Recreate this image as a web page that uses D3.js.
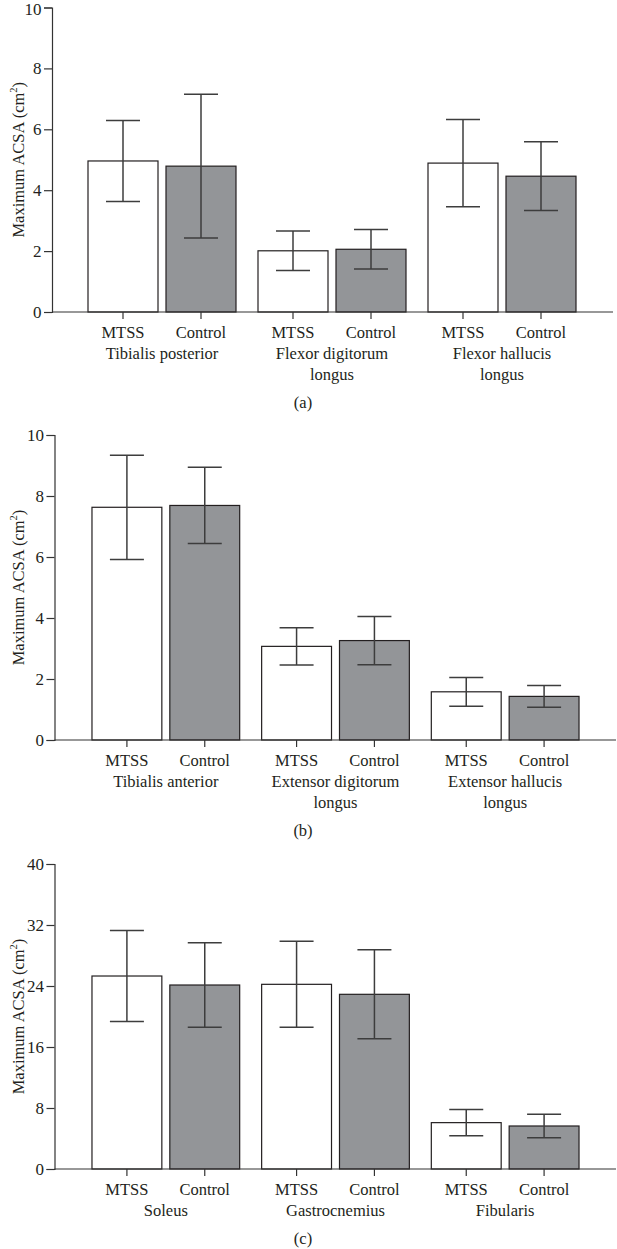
<!DOCTYPE html>
<html>
<head>
<meta charset="utf-8">
<script src="https://cdn.jsdelivr.net/npm/d3@7/dist/d3.min.js"></script>
<style>
  html, body { margin: 0; padding: 0; background: #fff; }
  svg { display: block; }
  text { font-family: "Liberation Serif", "Times New Roman", serif; fill: #231f20; }
</style>
</head>
<body>
<svg id="chart" width="617" height="1249"></svg>
<script>
// ---- Data ----
const groups = ["MTSS", "Control"];

const musclesA = [["Tibialis posterior"], ["Flexor digitorum", "longus"], ["Flexor hallucis", "longus"]];
const mtssMeanA = [4.96, 2.01, 4.89];
const mtssSdA = [1.33, 0.65, 1.43];
const controlMeanA = [4.79, 2.06, 4.46];
const controlSdA = [2.36, 0.65, 1.13];
const ticksA = [0, 2, 4, 6, 8, 10];

const musclesB = [["Tibialis anterior"], ["Extensor digitorum", "longus"], ["Extensor hallucis", "longus"]];
const mtssMeanB = [7.63, 3.07, 1.58];
const mtssSdB = [1.71, 0.61, 0.47];
const controlMeanB = [7.69, 3.26, 1.43];
const controlSdB = [1.25, 0.79, 0.36];
const ticksB = [0, 2, 4, 6, 8, 10];

const musclesC = [["Soleus"], ["Gastrocnemius"], ["Fibularis"]];
const mtssMeanC = [25.31, 24.22, 6.08];
const mtssSdC = [5.96, 5.64, 1.71];
const controlMeanC = [24.13, 22.91, 5.64];
const controlSdC = [5.53, 5.84, 1.53];
const ticksC = [0, 8, 16, 24, 32, 40];

const captions = ["(a)", "(b)", "(c)"];

// ---- Drawing ----
const svg = d3.select("#chart");
const fills = { MTSS: "#ffffff", Control: "#939598" };
const labelSize = 16.5;

function drawPanel(opts) {
  const { muscles, mtssMean, mtssSd, ctrlMean, ctrlSd, ticks, caption,
          axisX, yTop, yBottom, bandStart, bandEnd, axisEnd, captionDy } = opts;
  const g = svg.append("g");
  const y = d3.scaleLinear().domain([ticks[0], ticks[ticks.length - 1]]).range([yBottom, yTop]);
  const names = muscles.map(m => m.join(" "));
  const x0 = d3.scaleBand().domain(names).range([bandStart, bandEnd])
    .paddingInner(22 / 170).paddingOuter(11 / 170);
  const x1 = d3.scaleBand().domain(groups).range([0, x0.bandwidth()])
    .paddingInner(8 / 78).paddingOuter(0);

  const rows = [];
  names.forEach((n, i) => {
    rows.push({ muscle: n, group: "MTSS", mean: mtssMean[i], sd: mtssSd[i] });
    rows.push({ muscle: n, group: "Control", mean: ctrlMean[i], sd: ctrlSd[i] });
  });

  // bars
  g.selectAll("rect.bar").data(rows).join("rect")
    .attr("class", "bar")
    .attr("x", d => x0(d.muscle) + x1(d.group))
    .attr("width", x1.bandwidth())
    .attr("y", d => y(d.mean))
    .attr("height", d => y(0) - y(d.mean))
    .attr("fill", d => fills[d.group])
    .attr("stroke", "#231f20")
    .attr("stroke-width", 1.2);

  // error bars
  const cap = 17;
  const eb = g.selectAll("g.err").data(rows).join("g").attr("class", "err")
    .attr("stroke", "#3d3d3d").attr("stroke-width", 1.5);
  const cx = d => x0(d.muscle) + x1(d.group) + x1.bandwidth() / 2;
  eb.append("line").attr("x1", cx).attr("x2", cx)
    .attr("y1", d => y(d.mean + d.sd)).attr("y2", d => y(d.mean - d.sd));
  eb.append("line").attr("x1", d => cx(d) - cap).attr("x2", d => cx(d) + cap)
    .attr("y1", d => y(d.mean + d.sd)).attr("y2", d => y(d.mean + d.sd));
  eb.append("line").attr("x1", d => cx(d) - cap).attr("x2", d => cx(d) + cap)
    .attr("y1", d => y(d.mean - d.sd)).attr("y2", d => y(d.mean - d.sd));

  // y axis
  const yAxis = d3.axisLeft(y).tickValues(ticks).tickSize(8).tickPadding(2.5).tickFormat(d3.format("d"));
  const ya = g.append("g").attr("transform", `translate(${axisX},0)`).call(yAxis);
  ya.select(".domain").attr("stroke", "#333").attr("stroke-width", 1.2);
  ya.selectAll(".tick line").attr("stroke", "#333").attr("stroke-width", 1.2);
  ya.selectAll(".tick text").attr("font-size", 17).attr("fill", "#231f20")
    .attr("font-family", "Liberation Serif, serif");
  // keep a label at the very top of the page fully inside it
  ya.selectAll(".tick text").filter(d => y(d) < 10).attr("y", 2);

  // x axis line
  g.append("line").attr("x1", axisX).attr("x2", axisEnd)
    .attr("y1", y(0)).attr("y2", y(0)).attr("stroke", "#333").attr("stroke-width", 1.2);

  // x ticks + group labels
  rows.forEach(d => {
    g.append("line").attr("x1", cx(d)).attr("x2", cx(d))
      .attr("y1", y(0)).attr("y2", y(0) + 7).attr("stroke", "#333").attr("stroke-width", 1.2);
    g.append("text").attr("x", cx(d)).attr("y", y(0) + 26)
      .attr("text-anchor", "middle").attr("font-size", labelSize).text(d.group);
  });

  // muscle labels
  muscles.forEach((lines, i) => {
    const mx = x0(names[i]) + x0.bandwidth() / 2;
    lines.forEach((ln, j) => {
      g.append("text").attr("x", mx).attr("y", y(0) + 46.5 + j * 21)
        .attr("text-anchor", "middle").attr("font-size", labelSize).text(ln);
    });
  });

  // y label
  const yl = g.append("text")
    .attr("transform", `translate(24,${(yTop + yBottom) / 2}) rotate(-90)`)
    .attr("text-anchor", "middle").attr("font-size", 16.5);
  yl.append("tspan").text("Maximum ACSA (cm");
  yl.append("tspan").attr("font-size", 10.5).attr("dy", -7).text("2");
  yl.append("tspan").attr("dy", 7).text(")");

  // caption
  g.append("text").attr("x", 303).attr("y", y(0) + captionDy)
    .attr("text-anchor", "middle").attr("font-size", labelSize).text(caption);
}

drawPanel({ muscles: musclesA, mtssMean: mtssMeanA, mtssSd: mtssSdA, ctrlMean: controlMeanA, ctrlSd: controlSdA,
  ticks: ticksA, caption: captions[0], axisX: 52, yTop: 7.5, yBottom: 312,
  bandStart: 77, bandEnd: 587, axisEnd: 613, captionDy: 96 });

drawPanel({ muscles: musclesB, mtssMean: mtssMeanB, mtssSd: mtssSdB, ctrlMean: controlMeanB, ctrlSd: controlSdB,
  ticks: ticksB, caption: captions[1], axisX: 54.5, yTop: 435, yBottom: 740,
  bandStart: 81, bandEnd: 590, axisEnd: 616, captionDy: 96 });

drawPanel({ muscles: musclesC, mtssMean: mtssMeanC, mtssSd: mtssSdC, ctrlMean: controlMeanC, ctrlSd: controlSdC,
  ticks: ticksC, caption: captions[2], axisX: 54.5, yTop: 864, yBottom: 1169,
  bandStart: 81, bandEnd: 590, axisEnd: 616, captionDy: 75 });
</script>
</body>
</html>
